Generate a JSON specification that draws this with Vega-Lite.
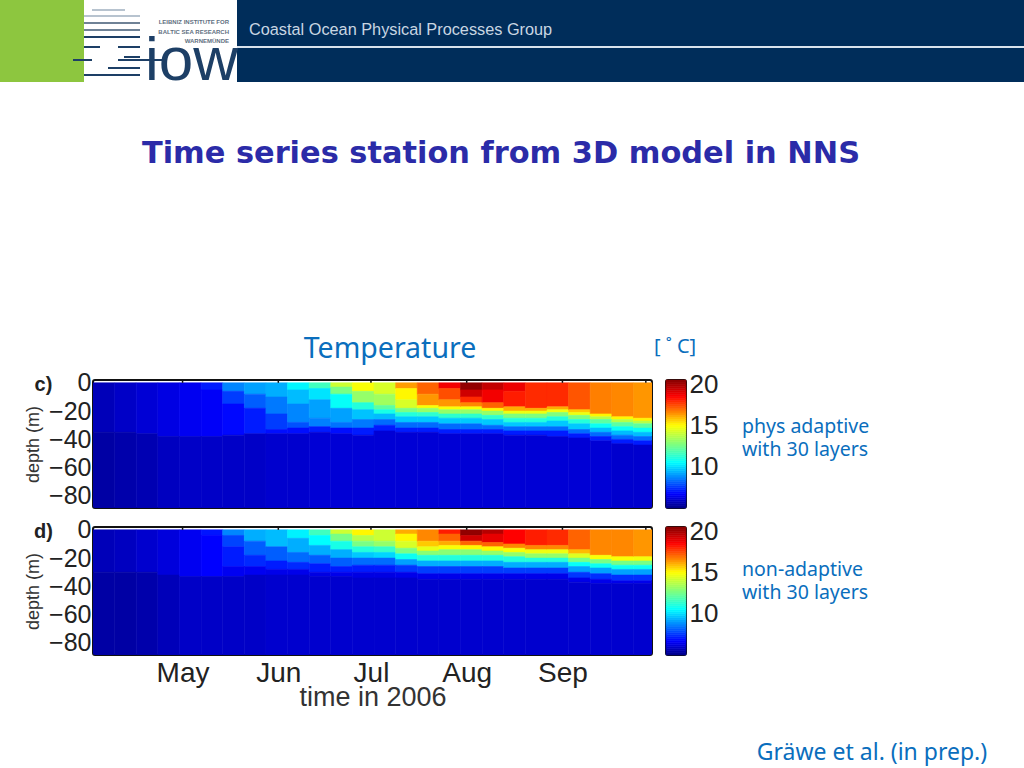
{"$schema":"https://vega.github.io/schema/vega-lite/v6.json","padding":0,"autosize":{"type":"pad"},"background":"white","bounds":"flush","spacing":19,
"config":{"view":{"stroke":null},"font":"Noto Sans","axis":{"labelFont":"Liberation Sans","titleFont":"Liberation Sans","labelColor":"#222","titleColor":"#333","grid":false,"ticks":false,"domain":false,"labelFlush":false,"labelOverlap":false}},
"datasets":{
"banner":[{"x0":0,"x1":84,"y0":0,"y1":82,"k":"green"},{"x0":237,"x1":1024,"y0":0,"y1":82,"k":"navy"},{"x0":237,"x1":1024,"y0":46,"y1":48,"k":"white"},
{"x0":92,"x1":125,"y0":9,"y1":11,"k":"pale"},{"x0":84,"x1":140,"y0":15,"y1":17,"k":"pale"},{"x0":84,"x1":140,"y0":22,"y1":24,"k":"slate"},{"x0":84,"x1":140,"y0":29,"y1":31,"k":"slate"},{"x0":84,"x1":140,"y0":36,"y1":38,"k":"dark"},{"x0":84,"x1":100,"y0":46,"y1":48,"k":"dark"},{"x0":118,"x1":140,"y0":46,"y1":48,"k":"dark"},{"x0":124,"x1":140,"y0":56,"y1":58,"k":"dark"},{"x0":73,"x1":92,"y0":59,"y1":61,"k":"dark"},{"x0":118,"x1":165,"y0":59,"y1":61,"k":"dark"},{"x0":108,"x1":140,"y0":67,"y1":69,"k":"dark"},{"x0":84,"x1":140,"y0":74,"y1":76,"k":"dark"}],
"months":[{"t":121},{"t":152},{"t":182},{"t":213},{"t":244},{"t":271}],
"bar":[{"v":5,"w":5.25},{"v":5.25,"w":5.5},{"v":5.5,"w":5.75},{"v":5.75,"w":6},{"v":6,"w":6.25},{"v":6.25,"w":6.5},{"v":6.5,"w":6.75},{"v":6.75,"w":7},{"v":7,"w":7.25},{"v":7.25,"w":7.5},{"v":7.5,"w":7.75},{"v":7.75,"w":8},{"v":8,"w":8.25},{"v":8.25,"w":8.5},{"v":8.5,"w":8.75},{"v":8.75,"w":9},{"v":9,"w":9.25},{"v":9.25,"w":9.5},{"v":9.5,"w":9.75},{"v":9.75,"w":10},{"v":10,"w":10.25},{"v":10.25,"w":10.5},{"v":10.5,"w":10.75},{"v":10.75,"w":11},{"v":11,"w":11.25},{"v":11.25,"w":11.5},{"v":11.5,"w":11.75},{"v":11.75,"w":12},{"v":12,"w":12.25},{"v":12.25,"w":12.5},{"v":12.5,"w":12.75},{"v":12.75,"w":13},{"v":13,"w":13.25},{"v":13.25,"w":13.5},{"v":13.5,"w":13.75},{"v":13.75,"w":14},{"v":14,"w":14.25},{"v":14.25,"w":14.5},{"v":14.5,"w":14.75},{"v":14.75,"w":15},{"v":15,"w":15.25},{"v":15.25,"w":15.5},{"v":15.5,"w":15.75},{"v":15.75,"w":16},{"v":16,"w":16.25},{"v":16.25,"w":16.5},{"v":16.5,"w":16.75},{"v":16.75,"w":17},{"v":17,"w":17.25},{"v":17.25,"w":17.5},{"v":17.5,"w":17.75},{"v":17.75,"w":18},{"v":18,"w":18.25},{"v":18.25,"w":18.5},{"v":18.5,"w":18.75},{"v":18.75,"w":19},{"v":19,"w":19.25},{"v":19.25,"w":19.5},{"v":19.5,"w":19.75},{"v":19.75,"w":20},{"v":20,"w":20.25},{"v":20.25,"w":20.5}],
"c":[
{"t":92,"u":99,"a":0,"b":-35,"v":5.6},{"t":92,"u":99,"a":-35,"b":-90,"v":5.3},
{"t":99,"u":106,"a":0,"b":-35,"v":5.8},{"t":99,"u":106,"a":-35,"b":-90,"v":5.4},
{"t":106,"u":113,"a":0,"b":-36,"v":6},{"t":106,"u":113,"a":-36,"b":-90,"v":5.5},
{"t":113,"u":120,"a":0,"b":-38,"v":6.2},{"t":113,"u":120,"a":-38,"b":-90,"v":5.7},
{"t":120,"u":127,"a":0,"b":-38,"v":6.4},{"t":120,"u":127,"a":-38,"b":-90,"v":5.8},
{"t":127,"u":134,"a":0,"b":-5,"v":7},{"t":127,"u":134,"a":-5,"b":-38,"v":6.5},{"t":127,"u":134,"a":-38,"b":-90,"v":5.8},
{"t":134,"u":141,"a":0,"b":-6,"v":8.6},{"t":134,"u":141,"a":-6,"b":-15,"v":7.5},{"t":134,"u":141,"a":-15,"b":-37,"v":6.7},{"t":134,"u":141,"a":-37,"b":-90,"v":5.8},
{"t":141,"u":148,"a":0,"b":-8,"v":9},{"t":141,"u":148,"a":-8,"b":-18,"v":8},{"t":141,"u":148,"a":-18,"b":-36,"v":7},{"t":141,"u":148,"a":-36,"b":-90,"v":5.8},
{"t":148,"u":155,"a":0,"b":-10,"v":9.2},{"t":148,"u":155,"a":-10,"b":-22,"v":8.4},{"t":148,"u":155,"a":-22,"b":-33,"v":7.5},{"t":148,"u":155,"a":-33,"b":-36,"v":6.8},{"t":148,"u":155,"a":-36,"b":-90,"v":5.9},
{"t":155,"u":162,"a":0,"b":-5,"v":10.3},{"t":155,"u":162,"a":-5,"b":-15,"v":9.4},{"t":155,"u":162,"a":-15,"b":-28,"v":8.6},{"t":155,"u":162,"a":-28,"b":-32,"v":7.8},{"t":155,"u":162,"a":-32,"b":-36,"v":6.8},{"t":155,"u":162,"a":-36,"b":-90,"v":5.9},
{"t":162,"u":169,"a":0,"b":-4,"v":11.5},{"t":162,"u":169,"a":-4,"b":-12,"v":10},{"t":162,"u":169,"a":-12,"b":-25,"v":9},{"t":162,"u":169,"a":-25,"b":-31,"v":8.5},{"t":162,"u":169,"a":-31,"b":-35,"v":7},{"t":162,"u":169,"a":-35,"b":-90,"v":6},
{"t":169,"u":176,"a":0,"b":-3,"v":14},{"t":169,"u":176,"a":-3,"b":-8,"v":12.5},{"t":169,"u":176,"a":-8,"b":-18,"v":10.5},{"t":169,"u":176,"a":-18,"b":-28,"v":9},{"t":169,"u":176,"a":-28,"b":-32,"v":8.3},{"t":169,"u":176,"a":-32,"b":-36,"v":6.8},{"t":169,"u":176,"a":-36,"b":-90,"v":6},
{"t":176,"u":183,"a":0,"b":-6,"v":14.8},{"t":176,"u":183,"a":-6,"b":-14,"v":13},{"t":176,"u":183,"a":-14,"b":-19,"v":11},{"t":176,"u":183,"a":-19,"b":-26,"v":9.5},{"t":176,"u":183,"a":-26,"b":-32,"v":8.4},{"t":176,"u":183,"a":-32,"b":-37,"v":7},{"t":176,"u":183,"a":-37,"b":-90,"v":6},
{"t":183,"u":190,"a":0,"b":-8,"v":14.2},{"t":183,"u":190,"a":-8,"b":-16,"v":13.2},{"t":183,"u":190,"a":-16,"b":-19,"v":12},{"t":183,"u":190,"a":-19,"b":-22,"v":10.8},{"t":183,"u":190,"a":-22,"b":-26,"v":9.4},{"t":183,"u":190,"a":-26,"b":-30,"v":8.2},{"t":183,"u":190,"a":-30,"b":-34,"v":7},{"t":183,"u":190,"a":-34,"b":-90,"v":6},
{"t":190,"u":197,"a":0,"b":-4,"v":16.2},{"t":190,"u":197,"a":-4,"b":-12,"v":15},{"t":190,"u":197,"a":-12,"b":-18,"v":14.2},{"t":190,"u":197,"a":-18,"b":-21,"v":12.5},{"t":190,"u":197,"a":-21,"b":-24,"v":11},{"t":190,"u":197,"a":-24,"b":-28,"v":9.6},{"t":190,"u":197,"a":-28,"b":-32,"v":8.2},{"t":190,"u":197,"a":-32,"b":-35,"v":7},{"t":190,"u":197,"a":-35,"b":-90,"v":6},
{"t":197,"u":204,"a":0,"b":-8,"v":17},{"t":197,"u":204,"a":-8,"b":-16,"v":16.3},{"t":197,"u":204,"a":-16,"b":-18,"v":14.8},{"t":197,"u":204,"a":-18,"b":-21,"v":13},{"t":197,"u":204,"a":-21,"b":-24,"v":11.2},{"t":197,"u":204,"a":-24,"b":-28,"v":9.6},{"t":197,"u":204,"a":-28,"b":-32,"v":8.2},{"t":197,"u":204,"a":-32,"b":-35,"v":7},{"t":197,"u":204,"a":-35,"b":-90,"v":6},
{"t":204,"u":211,"a":0,"b":-4,"v":18.6},{"t":204,"u":211,"a":-4,"b":-12,"v":17.3},{"t":204,"u":211,"a":-12,"b":-17,"v":16.3},{"t":204,"u":211,"a":-17,"b":-19,"v":14.8},{"t":204,"u":211,"a":-19,"b":-22,"v":13},{"t":204,"u":211,"a":-22,"b":-25,"v":11.2},{"t":204,"u":211,"a":-25,"b":-29,"v":9.6},{"t":204,"u":211,"a":-29,"b":-33,"v":8.2},{"t":204,"u":211,"a":-33,"b":-36,"v":7},{"t":204,"u":211,"a":-36,"b":-90,"v":6},
{"t":211,"u":218,"a":0,"b":-5,"v":20.2},{"t":211,"u":218,"a":-5,"b":-10,"v":19.2},{"t":211,"u":218,"a":-10,"b":-14,"v":17.8},{"t":211,"u":218,"a":-14,"b":-17,"v":16.5},{"t":211,"u":218,"a":-17,"b":-19,"v":14.8},{"t":211,"u":218,"a":-19,"b":-22,"v":13},{"t":211,"u":218,"a":-22,"b":-25,"v":11.2},{"t":211,"u":218,"a":-25,"b":-29,"v":9.6},{"t":211,"u":218,"a":-29,"b":-33,"v":8.2},{"t":211,"u":218,"a":-33,"b":-36,"v":7},{"t":211,"u":218,"a":-36,"b":-90,"v":6},
{"t":218,"u":225,"a":0,"b":-5,"v":19.4},{"t":218,"u":225,"a":-5,"b":-14,"v":18.6},{"t":218,"u":225,"a":-14,"b":-18,"v":17},{"t":218,"u":225,"a":-18,"b":-20,"v":15},{"t":218,"u":225,"a":-20,"b":-23,"v":13},{"t":218,"u":225,"a":-23,"b":-26,"v":11.2},{"t":218,"u":225,"a":-26,"b":-30,"v":9.6},{"t":218,"u":225,"a":-30,"b":-33,"v":8.2},{"t":218,"u":225,"a":-33,"b":-36,"v":7},{"t":218,"u":225,"a":-36,"b":-90,"v":6},
{"t":225,"u":232,"a":0,"b":-6,"v":18.7},{"t":225,"u":232,"a":-6,"b":-17,"v":18},{"t":225,"u":232,"a":-17,"b":-20,"v":16},{"t":225,"u":232,"a":-20,"b":-22,"v":14.6},{"t":225,"u":232,"a":-22,"b":-25,"v":12.6},{"t":225,"u":232,"a":-25,"b":-28,"v":11},{"t":225,"u":232,"a":-28,"b":-31,"v":9.6},{"t":225,"u":232,"a":-31,"b":-34,"v":8.2},{"t":225,"u":232,"a":-34,"b":-37,"v":7},{"t":225,"u":232,"a":-37,"b":-90,"v":6},
{"t":232,"u":239,"a":0,"b":-18,"v":17.8},{"t":232,"u":239,"a":-18,"b":-20,"v":16},{"t":232,"u":239,"a":-20,"b":-22,"v":14.6},{"t":232,"u":239,"a":-22,"b":-25,"v":12.6},{"t":232,"u":239,"a":-25,"b":-28,"v":11},{"t":232,"u":239,"a":-28,"b":-31,"v":9.6},{"t":232,"u":239,"a":-31,"b":-34,"v":8.2},{"t":232,"u":239,"a":-34,"b":-37,"v":7},{"t":232,"u":239,"a":-37,"b":-90,"v":6},
{"t":239,"u":246,"a":0,"b":-17,"v":17.8},{"t":239,"u":246,"a":-17,"b":-19,"v":16},{"t":239,"u":246,"a":-19,"b":-21,"v":14.6},{"t":239,"u":246,"a":-21,"b":-24,"v":12.6},{"t":239,"u":246,"a":-24,"b":-27,"v":11},{"t":239,"u":246,"a":-27,"b":-31,"v":9.6},{"t":239,"u":246,"a":-31,"b":-34,"v":8.2},{"t":239,"u":246,"a":-34,"b":-38,"v":7},{"t":239,"u":246,"a":-38,"b":-90,"v":6},
{"t":246,"u":253,"a":0,"b":-19,"v":17.2},{"t":246,"u":253,"a":-19,"b":-21,"v":15.6},{"t":246,"u":253,"a":-21,"b":-23,"v":14.6},{"t":246,"u":253,"a":-23,"b":-26,"v":12.6},{"t":246,"u":253,"a":-26,"b":-29,"v":11},{"t":246,"u":253,"a":-29,"b":-33,"v":9.6},{"t":246,"u":253,"a":-33,"b":-36,"v":8.2},{"t":246,"u":253,"a":-36,"b":-39,"v":7},{"t":246,"u":253,"a":-39,"b":-90,"v":6},
{"t":253,"u":260,"a":0,"b":-22,"v":16.6},{"t":253,"u":260,"a":-22,"b":-24,"v":15},{"t":253,"u":260,"a":-24,"b":-26,"v":13.6},{"t":253,"u":260,"a":-26,"b":-29,"v":12},{"t":253,"u":260,"a":-29,"b":-32,"v":10.6},{"t":253,"u":260,"a":-32,"b":-35,"v":9.4},{"t":253,"u":260,"a":-35,"b":-38,"v":8.2},{"t":253,"u":260,"a":-38,"b":-41,"v":7},{"t":253,"u":260,"a":-41,"b":-90,"v":6},
{"t":260,"u":267,"a":0,"b":-24,"v":16.5},{"t":260,"u":267,"a":-24,"b":-26,"v":15},{"t":260,"u":267,"a":-26,"b":-28,"v":13.6},{"t":260,"u":267,"a":-28,"b":-31,"v":12},{"t":260,"u":267,"a":-31,"b":-34,"v":10.6},{"t":260,"u":267,"a":-34,"b":-37,"v":9.4},{"t":260,"u":267,"a":-37,"b":-40,"v":8.2},{"t":260,"u":267,"a":-40,"b":-43,"v":7},{"t":260,"u":267,"a":-43,"b":-90,"v":5.9},
{"t":267,"u":273,"a":0,"b":-25,"v":16.3},{"t":267,"u":273,"a":-25,"b":-27,"v":15},{"t":267,"u":273,"a":-27,"b":-29,"v":13.6},{"t":267,"u":273,"a":-29,"b":-32,"v":12},{"t":267,"u":273,"a":-32,"b":-35,"v":10.6},{"t":267,"u":273,"a":-35,"b":-38,"v":9.4},{"t":267,"u":273,"a":-38,"b":-41,"v":8.2},{"t":267,"u":273,"a":-41,"b":-44,"v":7},{"t":267,"u":273,"a":-44,"b":-90,"v":5.9}
],
"d":[
{"t":92,"u":99,"a":0,"b":-30,"v":5.6},{"t":92,"u":99,"a":-30,"b":-90,"v":5.3},
{"t":99,"u":106,"a":0,"b":-30,"v":5.7},{"t":99,"u":106,"a":-30,"b":-90,"v":5.3},
{"t":106,"u":113,"a":0,"b":-30,"v":5.9},{"t":106,"u":113,"a":-30,"b":-90,"v":5.4},
{"t":113,"u":120,"a":0,"b":-32,"v":6.1},{"t":113,"u":120,"a":-32,"b":-90,"v":5.6},
{"t":120,"u":127,"a":0,"b":-33,"v":6.4},{"t":120,"u":127,"a":-33,"b":-90,"v":5.8},
{"t":127,"u":134,"a":0,"b":-4,"v":6.9},{"t":127,"u":134,"a":-4,"b":-33,"v":6.6},{"t":127,"u":134,"a":-33,"b":-90,"v":5.8},
{"t":134,"u":141,"a":0,"b":-4,"v":8.6},{"t":134,"u":141,"a":-4,"b":-12,"v":7.6},{"t":134,"u":141,"a":-12,"b":-26,"v":7},{"t":134,"u":141,"a":-26,"b":-33,"v":6.4},{"t":134,"u":141,"a":-33,"b":-90,"v":5.8},
{"t":141,"u":148,"a":0,"b":-8,"v":9.2},{"t":141,"u":148,"a":-8,"b":-18,"v":8},{"t":141,"u":148,"a":-18,"b":-26,"v":7.2},{"t":141,"u":148,"a":-26,"b":-32,"v":6.4},{"t":141,"u":148,"a":-32,"b":-90,"v":5.8},
{"t":148,"u":155,"a":0,"b":-12,"v":9.4},{"t":148,"u":155,"a":-12,"b":-22,"v":8},{"t":148,"u":155,"a":-22,"b":-28,"v":7},{"t":148,"u":155,"a":-28,"b":-32,"v":6.3},{"t":148,"u":155,"a":-32,"b":-90,"v":5.9},
{"t":155,"u":162,"a":0,"b":-6,"v":10.2},{"t":155,"u":162,"a":-6,"b":-16,"v":9.2},{"t":155,"u":162,"a":-16,"b":-23,"v":8.2},{"t":155,"u":162,"a":-23,"b":-28,"v":7.2},{"t":155,"u":162,"a":-28,"b":-32,"v":6.3},{"t":155,"u":162,"a":-32,"b":-90,"v":5.9},
{"t":162,"u":169,"a":0,"b":-4,"v":11.5},{"t":162,"u":169,"a":-4,"b":-11,"v":10.4},{"t":162,"u":169,"a":-11,"b":-18,"v":9.2},{"t":162,"u":169,"a":-18,"b":-24,"v":8},{"t":162,"u":169,"a":-24,"b":-30,"v":7},{"t":162,"u":169,"a":-30,"b":-33,"v":6.2},{"t":162,"u":169,"a":-33,"b":-90,"v":5.9},
{"t":169,"u":176,"a":0,"b":-3,"v":14},{"t":169,"u":176,"a":-3,"b":-8,"v":12.5},{"t":169,"u":176,"a":-8,"b":-14,"v":10.8},{"t":169,"u":176,"a":-14,"b":-20,"v":9.2},{"t":169,"u":176,"a":-20,"b":-26,"v":8},{"t":169,"u":176,"a":-26,"b":-30,"v":7},{"t":169,"u":176,"a":-30,"b":-33,"v":6.3},{"t":169,"u":176,"a":-33,"b":-90,"v":5.9},
{"t":176,"u":183,"a":0,"b":-4,"v":15},{"t":176,"u":183,"a":-4,"b":-8,"v":13.6},{"t":176,"u":183,"a":-8,"b":-12,"v":12.5},{"t":176,"u":183,"a":-12,"b":-16,"v":11},{"t":176,"u":183,"a":-16,"b":-20,"v":9.6},{"t":176,"u":183,"a":-20,"b":-25,"v":8.2},{"t":176,"u":183,"a":-25,"b":-30,"v":7},{"t":176,"u":183,"a":-30,"b":-34,"v":6.2},{"t":176,"u":183,"a":-34,"b":-90,"v":5.9},
{"t":183,"u":190,"a":0,"b":-8,"v":14},{"t":183,"u":190,"a":-8,"b":-12,"v":13},{"t":183,"u":190,"a":-12,"b":-16,"v":11.3},{"t":183,"u":190,"a":-16,"b":-20,"v":9.8},{"t":183,"u":190,"a":-20,"b":-25,"v":8.2},{"t":183,"u":190,"a":-25,"b":-30,"v":7},{"t":183,"u":190,"a":-30,"b":-34,"v":6.2},{"t":183,"u":190,"a":-34,"b":-90,"v":5.9},
{"t":190,"u":197,"a":0,"b":-3,"v":16},{"t":190,"u":197,"a":-3,"b":-8,"v":15},{"t":190,"u":197,"a":-8,"b":-13,"v":14.2},{"t":190,"u":197,"a":-13,"b":-17,"v":12.5},{"t":190,"u":197,"a":-17,"b":-21,"v":10.6},{"t":190,"u":197,"a":-21,"b":-25,"v":9},{"t":190,"u":197,"a":-25,"b":-30,"v":7.4},{"t":190,"u":197,"a":-30,"b":-34,"v":6.3},{"t":190,"u":197,"a":-34,"b":-90,"v":5.9},
{"t":197,"u":204,"a":0,"b":-8,"v":16.5},{"t":197,"u":204,"a":-8,"b":-12,"v":15.6},{"t":197,"u":204,"a":-12,"b":-15,"v":14.5},{"t":197,"u":204,"a":-15,"b":-18,"v":12.8},{"t":197,"u":204,"a":-18,"b":-22,"v":11},{"t":197,"u":204,"a":-22,"b":-26,"v":9.2},{"t":197,"u":204,"a":-26,"b":-31,"v":7.5},{"t":197,"u":204,"a":-31,"b":-35,"v":6.3},{"t":197,"u":204,"a":-35,"b":-90,"v":5.9},
{"t":204,"u":211,"a":0,"b":-3,"v":18},{"t":204,"u":211,"a":-3,"b":-8,"v":17},{"t":204,"u":211,"a":-8,"b":-11,"v":16},{"t":204,"u":211,"a":-11,"b":-14,"v":14.8},{"t":204,"u":211,"a":-14,"b":-18,"v":12.8},{"t":204,"u":211,"a":-18,"b":-22,"v":11},{"t":204,"u":211,"a":-22,"b":-26,"v":9.2},{"t":204,"u":211,"a":-26,"b":-31,"v":7.5},{"t":204,"u":211,"a":-31,"b":-35,"v":6.3},{"t":204,"u":211,"a":-35,"b":-90,"v":5.9},
{"t":211,"u":218,"a":0,"b":-4,"v":20.2},{"t":211,"u":218,"a":-4,"b":-8,"v":19.2},{"t":211,"u":218,"a":-8,"b":-11,"v":17},{"t":211,"u":218,"a":-11,"b":-14,"v":15},{"t":211,"u":218,"a":-14,"b":-18,"v":12.8},{"t":211,"u":218,"a":-18,"b":-22,"v":11},{"t":211,"u":218,"a":-22,"b":-26,"v":9.2},{"t":211,"u":218,"a":-26,"b":-31,"v":7.5},{"t":211,"u":218,"a":-31,"b":-35,"v":6.3},{"t":211,"u":218,"a":-35,"b":-90,"v":5.9},
{"t":218,"u":225,"a":0,"b":-3,"v":19.6},{"t":218,"u":225,"a":-3,"b":-9,"v":18.8},{"t":218,"u":225,"a":-9,"b":-12,"v":17},{"t":218,"u":225,"a":-12,"b":-15,"v":15},{"t":218,"u":225,"a":-15,"b":-18,"v":13},{"t":218,"u":225,"a":-18,"b":-22,"v":11},{"t":218,"u":225,"a":-22,"b":-26,"v":9.2},{"t":218,"u":225,"a":-26,"b":-31,"v":7.5},{"t":218,"u":225,"a":-31,"b":-35,"v":6.3},{"t":218,"u":225,"a":-35,"b":-90,"v":5.9},
{"t":225,"u":232,"a":0,"b":-10,"v":18.4},{"t":225,"u":232,"a":-10,"b":-13,"v":16.5},{"t":225,"u":232,"a":-13,"b":-16,"v":14.8},{"t":225,"u":232,"a":-16,"b":-19,"v":13},{"t":225,"u":232,"a":-19,"b":-23,"v":11},{"t":225,"u":232,"a":-23,"b":-27,"v":9.2},{"t":225,"u":232,"a":-27,"b":-31,"v":7.5},{"t":225,"u":232,"a":-31,"b":-35,"v":6.3},{"t":225,"u":232,"a":-35,"b":-90,"v":5.9},
{"t":232,"u":239,"a":0,"b":-11,"v":18},{"t":232,"u":239,"a":-11,"b":-14,"v":16.5},{"t":232,"u":239,"a":-14,"b":-17,"v":14.6},{"t":232,"u":239,"a":-17,"b":-20,"v":13},{"t":232,"u":239,"a":-20,"b":-23,"v":11},{"t":232,"u":239,"a":-23,"b":-27,"v":9.2},{"t":232,"u":239,"a":-27,"b":-31,"v":7.5},{"t":232,"u":239,"a":-31,"b":-35,"v":6.3},{"t":232,"u":239,"a":-35,"b":-90,"v":5.9},
{"t":239,"u":246,"a":0,"b":-11,"v":17.8},{"t":239,"u":246,"a":-11,"b":-14,"v":16.5},{"t":239,"u":246,"a":-14,"b":-17,"v":14.6},{"t":239,"u":246,"a":-17,"b":-20,"v":13},{"t":239,"u":246,"a":-20,"b":-23,"v":11},{"t":239,"u":246,"a":-23,"b":-27,"v":9.2},{"t":239,"u":246,"a":-27,"b":-31,"v":7.5},{"t":239,"u":246,"a":-31,"b":-35,"v":6.3},{"t":239,"u":246,"a":-35,"b":-90,"v":5.9},
{"t":246,"u":253,"a":0,"b":-14,"v":17},{"t":246,"u":253,"a":-14,"b":-17,"v":15.8},{"t":246,"u":253,"a":-17,"b":-20,"v":14.3},{"t":246,"u":253,"a":-20,"b":-23,"v":12.5},{"t":246,"u":253,"a":-23,"b":-26,"v":10.5},{"t":246,"u":253,"a":-26,"b":-30,"v":9},{"t":246,"u":253,"a":-30,"b":-34,"v":7.4},{"t":246,"u":253,"a":-34,"b":-37,"v":6.3},{"t":246,"u":253,"a":-37,"b":-90,"v":5.9},
{"t":253,"u":260,"a":0,"b":-18,"v":16.5},{"t":253,"u":260,"a":-18,"b":-21,"v":14.8},{"t":253,"u":260,"a":-21,"b":-24,"v":12.5},{"t":253,"u":260,"a":-24,"b":-27,"v":10.6},{"t":253,"u":260,"a":-27,"b":-31,"v":9},{"t":253,"u":260,"a":-31,"b":-35,"v":7.3},{"t":253,"u":260,"a":-35,"b":-38,"v":6.3},{"t":253,"u":260,"a":-38,"b":-90,"v":5.9},
{"t":260,"u":267,"a":0,"b":-19,"v":16.5},{"t":260,"u":267,"a":-19,"b":-22,"v":14.8},{"t":260,"u":267,"a":-22,"b":-25,"v":12.5},{"t":260,"u":267,"a":-25,"b":-28,"v":10.6},{"t":260,"u":267,"a":-28,"b":-32,"v":9},{"t":260,"u":267,"a":-32,"b":-36,"v":7.3},{"t":260,"u":267,"a":-36,"b":-38,"v":6.3},{"t":260,"u":267,"a":-38,"b":-90,"v":5.9},
{"t":267,"u":273,"a":0,"b":-19,"v":16.3},{"t":267,"u":273,"a":-19,"b":-22,"v":14.7},{"t":267,"u":273,"a":-22,"b":-25,"v":12.5},{"t":267,"u":273,"a":-25,"b":-28,"v":10.6},{"t":267,"u":273,"a":-28,"b":-32,"v":9},{"t":267,"u":273,"a":-32,"b":-36,"v":7.3},{"t":267,"u":273,"a":-36,"b":-38,"v":6.3},{"t":267,"u":273,"a":-38,"b":-90,"v":5.9}
]},
"vconcat":[
{"width":1024,"height":82,"data":{"name":"banner"},"layer":[
{"mark":{"type":"rect","clip":true},"encoding":{"x":{"field":"x0","type":"quantitative","scale":{"domain":[0,1024],"nice":false},"axis":null},"x2":{"field":"x1"},"y":{"field":"y0","type":"quantitative","scale":{"domain":[82,0],"nice":false,"zero":false},"axis":null},"y2":{"field":"y1"},"color":{"field":"k","type":"nominal","legend":null,"scale":{"domain":["green","navy","white","pale","slate","dark"],"range":["#8dc63f","#002d5a","#d8e2ec","#b7c3cf","#6f8296","#1d3f66"]}}}},
{"data":{"values":[{"s":"Coastal Ocean Physical Processes Group"}]},"mark":{"type":"text","font":"Liberation Sans","fontSize":16.3,"color":"#c9d6e2","align":"left","dx":-263,"dy":-11},"encoding":{"text":{"field":"s"}}},
{"data":{"values":[{"s":["LEIBNIZ INSTITUTE FOR","BALTIC SEA RESEARCH","WARNEMÜNDE"]}]},"mark":{"type":"text","font":"Liberation Sans","fontWeight":"bold","fontSize":6,"lineHeight":9.6,"color":"#5f6f7f","align":"right","dx":-283,"dy":-19},"encoding":{"text":{"field":"s"}}},
{"data":{"values":[{"s":"iow"}]},"mark":{"type":"text","font":"Liberation Sans","fontSize":62,"color":"#1d3f66","align":"right","baseline":"alphabetic","dx":-274,"dy":39},"encoding":{"text":{"field":"s"}}}
]},
{"width":1024,"height":260,"layer":[
{"data":{"values":[{"s":"Time series station from 3D model in NNS"}]},"mark":{"type":"text","font":"DejaVu Sans","fontWeight":"bold","fontSize":30.4,"color":"#2b2ba8","dx":-11,"dy":-77},"encoding":{"text":{"field":"s"}}},
{"data":{"values":[{"s":"Temperature"}]},"mark":{"type":"text","font":"Noto Sans","fontSize":28.5,"color":"#0a6ebd","dx":-122,"dy":118},"encoding":{"text":{"field":"s"}}},
{"data":{"values":[{"s":"[ ˚   C]"}]},"mark":{"type":"text","font":"Noto Sans","fontSize":20,"color":"#0a6ebd","dx":163,"dy":116},"encoding":{"text":{"field":"s"}}}
]},
{"bounds":"flush","spacing":14,"hconcat":[
{"width":79,"height":128,"data":{"values":[{"s":"c)"}]},"mark":{"type":"text","font":"Liberation Sans","fontWeight":"bold","fontSize":20,"color":"#222","dx":4,"dy":-59},"encoding":{"text":{"field":"s"}}},
{"width":559,"height":128,"view":{"stroke":"#111","strokeWidth":2,"cornerRadius":2},"layer":[
{"data":{"name":"c"},"mark":{"type":"rect","clip":true,"strokeWidth":0.6},"encoding":{"x":{"field":"t","type":"quantitative","scale":{"domain":[92,273],"nice":false,"zero":false},"axis":null},"x2":{"field":"u"},"y":{"field":"a","type":"quantitative","scale":{"domain":[-88.5,2],"nice":false,"zero":false},"axis":{"values":[0,-20,-40,-60,-80],"labelOverlap":false,"labelBound":false,"labelSeparation":0,"title":"depth (m)","titleFontSize":18,"titleFontWeight":"normal","titlePadding":6,"labelFontSize":25,"labelPadding":2}},"y2":{"field":"b"},"color":{"field":"v","type":"quantitative","legend":null,"scale":{"domain":[5,6.6,10.4,12.6,14.9,16.6,18.4,20.5],"range":["#00008f","#0000ff","#00ffff","#7fff7f","#ffff00","#ff7f00","#ff0000","#800000"],"interpolate":"rgb"}},"stroke":{"field":"v","type":"quantitative","legend":null,"scale":{"domain":[5,6.6,10.4,12.6,14.9,16.6,18.4,20.5],"range":["#00008f","#0000ff","#00ffff","#7fff7f","#ffff00","#ff7f00","#ff0000","#800000"],"interpolate":"rgb"}}}},
{"data":{"name":"months"},"mark":{"type":"rule","color":"#111","strokeWidth":1.5},"encoding":{"x":{"field":"t","type":"quantitative"},"y":{"datum":2,"axis":{"values":[0,-20,-40,-60,-80],"labelOverlap":false,"labelBound":false,"labelSeparation":0,"title":"depth (m)","titleFontSize":18,"titleFontWeight":"normal","titlePadding":6,"labelFontSize":25,"labelPadding":2}},"y2":{"datum":0}}}
]},
{"width":20,"height":128,"view":{"stroke":"#111","strokeWidth":2,"cornerRadius":2},"data":{"name":"bar"},"mark":{"type":"rect","strokeWidth":0.6},"encoding":{"y":{"field":"v","type":"quantitative","scale":{"domain":[5,20.5],"nice":false,"zero":false},"axis":{"orient":"right","values":[10,15,20],"title":null,"labelFontSize":26,"labelPadding":3}},"y2":{"field":"w"},"color":{"field":"v","type":"quantitative","legend":null,"scale":{"domain":[5,6.6,10.4,12.6,14.9,16.6,18.4,20.5],"range":["#00008f","#0000ff","#00ffff","#7fff7f","#ffff00","#ff7f00","#ff0000","#800000"],"interpolate":"rgb"}},"stroke":{"field":"v","type":"quantitative","legend":null,"scale":{"domain":[5,6.6,10.4,12.6,14.9,16.6,18.4,20.5],"range":["#00008f","#0000ff","#00ffff","#7fff7f","#ffff00","#ff7f00","#ff0000","#800000"],"interpolate":"rgb"}}}},
{"width":84,"height":128,"data":{"values":[{"s":["phys adaptive","with 30 layers"]}]},"mark":{"type":"text","font":"Noto Sans","fontSize":19.5,"lineHeight":23.5,"color":"#0a6ebd","align":"left","dy":-17.5},"encoding":{"text":{"field":"s"}}}
]},
{"width":1024,"height":109,"data":{"values":[{"s":""}]},"mark":{"type":"text"},"encoding":{"text":{"field":"s"}}},
{"bounds":"flush","spacing":14,"hconcat":[
{"width":79,"height":128,"data":{"values":[{"s":"d)"}]},"mark":{"type":"text","font":"Liberation Sans","fontWeight":"bold","fontSize":20,"color":"#222","dx":4,"dy":-59},"encoding":{"text":{"field":"s"}}},
{"width":559,"height":128,"view":{"stroke":"#111","strokeWidth":2,"cornerRadius":2},"layer":[
{"data":{"name":"d"},"mark":{"type":"rect","clip":true,"strokeWidth":0.6},"encoding":{"x":{"field":"t","type":"quantitative","scale":{"domain":[92,273],"nice":false,"zero":false},"axis":{"values":[121,152,182,213,244],"labelExpr":"datum.value==121?'May':datum.value==152?'Jun':datum.value==182?'Jul':datum.value==213?'Aug':'Sep'","title":"time in 2006","titleFontSize":27,"titleFontWeight":"normal","titlePadding":-3,"labelFontSize":28,"labelPadding":4}},"x2":{"field":"u"},"y":{"field":"a","type":"quantitative","scale":{"domain":[-88.5,2],"nice":false,"zero":false},"axis":{"values":[0,-20,-40,-60,-80],"labelOverlap":false,"labelBound":false,"labelSeparation":0,"title":"depth (m)","titleFontSize":18,"titleFontWeight":"normal","titlePadding":6,"labelFontSize":25,"labelPadding":2}},"y2":{"field":"b"},"color":{"field":"v","type":"quantitative","legend":null,"scale":{"domain":[5,6.6,10.4,12.6,14.9,16.6,18.4,20.5],"range":["#00008f","#0000ff","#00ffff","#7fff7f","#ffff00","#ff7f00","#ff0000","#800000"],"interpolate":"rgb"}},"stroke":{"field":"v","type":"quantitative","legend":null,"scale":{"domain":[5,6.6,10.4,12.6,14.9,16.6,18.4,20.5],"range":["#00008f","#0000ff","#00ffff","#7fff7f","#ffff00","#ff7f00","#ff0000","#800000"],"interpolate":"rgb"}}}},
{"data":{"name":"months"},"mark":{"type":"rule","color":"#111","strokeWidth":1.5},"encoding":{"x":{"field":"t","type":"quantitative"},"y":{"datum":2,"axis":{"values":[0,-20,-40,-60,-80],"labelOverlap":false,"labelBound":false,"labelSeparation":0,"title":"depth (m)","titleFontSize":18,"titleFontWeight":"normal","titlePadding":6,"labelFontSize":25,"labelPadding":2}},"y2":{"datum":0}}}
]},
{"width":20,"height":128,"view":{"stroke":"#111","strokeWidth":2,"cornerRadius":2},"data":{"name":"bar"},"mark":{"type":"rect","strokeWidth":0.6},"encoding":{"y":{"field":"v","type":"quantitative","scale":{"domain":[5,20.5],"nice":false,"zero":false},"axis":{"orient":"right","values":[10,15,20],"title":null,"labelFontSize":26,"labelPadding":3}},"y2":{"field":"w"},"color":{"field":"v","type":"quantitative","legend":null,"scale":{"domain":[5,6.6,10.4,12.6,14.9,16.6,18.4,20.5],"range":["#00008f","#0000ff","#00ffff","#7fff7f","#ffff00","#ff7f00","#ff0000","#800000"],"interpolate":"rgb"}},"stroke":{"field":"v","type":"quantitative","legend":null,"scale":{"domain":[5,6.6,10.4,12.6,14.9,16.6,18.4,20.5],"range":["#00008f","#0000ff","#00ffff","#7fff7f","#ffff00","#ff7f00","#ff0000","#800000"],"interpolate":"rgb"}}}},
{"width":84,"height":128,"data":{"values":[{"s":["non-adaptive","with 30 layers"]}]},"mark":{"type":"text","font":"Noto Sans","fontSize":19.5,"lineHeight":23.5,"color":"#0a6ebd","align":"left","dy":-21.5},"encoding":{"text":{"field":"s"}}}
]},
{"width":1024,"height":109,"data":{"values":[{"s":""}]},"mark":{"type":"text"},"encoding":{"text":{"field":"s"}}},
{"width":1024,"height":94,"data":{"values":[{"s":"Gräwe et al. (in prep.)"}]},"mark":{"type":"text","font":"Noto Sans","fontSize":23,"color":"#0a6ebd","dx":360,"dy":32},"encoding":{"text":{"field":"s"}}}
],
"resolve":{"scale":{"color":"shared"}}}
